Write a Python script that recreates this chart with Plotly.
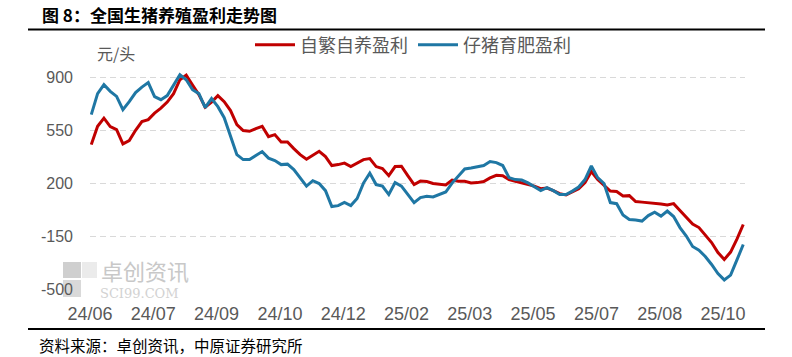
import plotly.graph_objects as go
import pandas as pd

# ---------------- data ----------------
dates = pd.date_range("2024-06-04", periods=104, freq="5D")

self_bred = [454, 575, 629, 573, 553, 459, 481, 549, 606, 619,
             662, 695, 735, 791, 883, 913, 847, 784, 702, 735,
             778, 738, 679, 586, 547, 542, 560, 575, 507, 520,
             471, 471, 428, 388, 358, 382, 410, 375, 316, 322,
             332, 309, 332, 355, 362, 309, 296, 249, 309, 311,
             249, 190, 213, 210, 197, 193, 187, 220, 212, 212,
             201, 203, 210, 234, 251, 249, 223, 212, 201, 190,
             180, 163, 167, 150, 130, 121, 144, 163, 203, 276,
             223, 183, 147, 144, 114, 117, 78, 74, 71, 69,
             61, 55, 64, 18, -28, -71, -94, -140, -193, -259,
             -305, -256, -171, -74]

piglet = [652, 791, 850, 806, 773, 685, 738, 798, 834, 864,
          771, 751, 778, 850, 916, 883, 817, 791, 699, 758,
          705, 632, 513, 388, 355, 355, 382, 408, 365, 349,
          322, 325, 289, 233, 180, 216, 197, 150, 45, 51,
          72, 51, 98, 200, 266, 190, 180, 124, 203, 180,
          124, 71, 104, 113, 108, 124, 141, 200, 249, 293,
          300, 306, 316, 342, 335, 316, 236, 223, 220, 201,
          177, 150, 170, 150, 124, 124, 147, 174, 223, 313,
          236, 197, 71, 64, -11, -41, -44, -51, -15, 7,
          -18, 15, -21, -94, -150, -219, -243, -285, -338, -398,
          -440, -408, -308, -206]

series_names = ["自繁自养盈利", "仔猪育肥盈利"]
tick_dates = pd.date_range("2024-06-03", periods=11, freq="50D")
tick_labels = ["24/06", "24/07", "24/09", "24/10", "24/12", "25/02",
               "25/03", "25/05", "25/07", "25/08", "25/10"]
y_ticks = [-500, -150, 200, 550, 900]
y_labels = ["-500", "-150", "200", "550", "900"]

# ---------------- layout helpers ----------------
W, H = 792, 357
L, R = 90, 745
T, B = 62, 289


def px(x):
    return (x - L) / (R - L)


def py(y):
    return (B - y) / (B - T)


x_start = pd.Timestamp("2024-06-03")
days_per_px = 500 / 633
x_end = x_start + pd.Timedelta(days=(R - L) * days_per_px)

RED = "#C00000"
BLUE = "#1F77A4"
GREY = "#595959"
CJK = "Noto Sans CJK SC"

fig = go.Figure()
fig.add_trace(go.Scatter(x=dates, y=self_bred, mode="lines", name=series_names[0],
                         line=dict(color=RED, width=3)))
fig.add_trace(go.Scatter(x=dates, y=piglet, mode="lines", name=series_names[1],
                         line=dict(color=BLUE, width=3)))

fig.update_layout(
    width=W, height=H, autosize=False,
    margin=dict(l=L, r=W - R, t=T, b=H - B, pad=0),
    paper_bgcolor="white", plot_bgcolor="white",
    showlegend=True,
    legend=dict(orientation="h", x=px(250), xanchor="left", y=py(45), yanchor="middle",
                font=dict(family=CJK, size=18, color=GREY),
                entrywidth=108, entrywidthmode="pixels", itemwidth=40,
                bgcolor="rgba(0,0,0,0)", traceorder="normal"),
    xaxis=dict(type="date", range=[x_start, x_end], tickmode="array",
               tickvals=tick_dates, ticktext=tick_labels, showgrid=False,
               zeroline=False, showline=False, ticks="",
               ticklabelstandoff=12,
               tickfont=dict(family="Liberation Sans", size=18, color=GREY)),
    yaxis=dict(range=[-500, 1000], tickmode="array", tickvals=y_ticks, ticktext=y_labels,
               showgrid=True, gridcolor="#D9D9D9", gridwidth=1, griddash="6px,4px",
               zeroline=False, showline=False, ticks="", ticklabelstandoff=16,
               tickfont=dict(family="Liberation Sans", size=16, color=GREY)),
    hovermode=False,
)

annotations = [
    dict(text="<b>图 8：全国生猪养殖盈利走势图</b>", x=px(40), y=py(15), xanchor="left",
         yanchor="middle", font=dict(family=CJK, size=17, color="black")),
    dict(text="元/头", x=px(95), y=py(53), xanchor="left", yanchor="middle",
         font=dict(family=CJK, size=16, color=GREY)),
    dict(text="资料来源：卓创资讯，中原证券研究所", x=px(37), y=py(345), xanchor="left",
         yanchor="middle", font=dict(family=CJK, size=15.5, color="black")),
    dict(text="卓创资讯", x=px(99), y=py(270), xanchor="left", yanchor="middle",
         font=dict(family=CJK, size=22, color="#C8C8C8")),
    dict(text="SCI99.COM", x=px(98), y=py(293), xanchor="left", yanchor="middle",
         font=dict(family="DejaVu Serif", size=13, color="#D2D2D2")),
]
for a in annotations:
    a.update(xref="paper", yref="paper", showarrow=False)
fig.update_layout(annotations=annotations)

shapes = [
    dict(type="line", x0=px(28), x1=px(765), y0=py(29.5), y1=py(29.5),
         line=dict(color="black", width=2)),
    dict(type="line", x0=px(28), x1=px(765), y0=py(329), y1=py(329),
         line=dict(color="black", width=2)),
    # watermark logo blocks
    dict(type="rect", x0=px(63), x1=px(81), y0=py(278), y1=py(262),
         fillcolor="#CFCFCF", line=dict(width=0), layer="below"),
    dict(type="rect", x0=px(82), x1=px(97), y0=py(278), y1=py(262),
         fillcolor="#EBEBEB", line=dict(width=0), layer="below"),
    dict(type="rect", x0=px(63), x1=px(81), y0=py(297), y1=py(280),
         fillcolor="#D9D9D9", line=dict(width=0), layer="below"),
]
for s in shapes:
    s.update(xref="paper", yref="paper")
fig.update_layout(shapes=shapes)

fig.write_html("out.html", config={"displayModeBar": False},
               post_script="document.body.style.margin='0';")
